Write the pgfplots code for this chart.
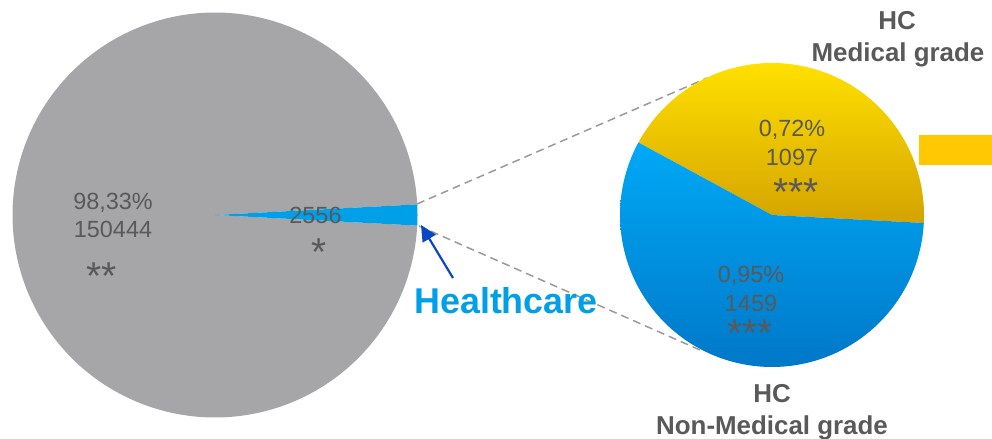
\documentclass[border=0pt]{standalone}
\usepackage{pgfplots}
\pgfplotsset{compat=1.18}
\usepackage{fontspec}
\setmainfont{Liberation Sans}
\usetikzlibrary{arrows.meta}
\definecolor{pgrey}{HTML}{A6A6A8}
\definecolor{tgrey}{HTML}{595959}
\definecolor{hcblue}{HTML}{00A0E9}
\definecolor{bluetop}{HTML}{00A9F6}
\definecolor{bluebot}{HTML}{0078C8}
\definecolor{yeltop}{HTML}{FFE000}
\definecolor{yelbot}{HTML}{D4A300}
\definecolor{arrowblue}{HTML}{0A47C2}
\definecolor{dashgrey}{HTML}{9A9A9A}
\definecolor{rectyel}{HTML}{FFC800}
% data
\def\vOther{150444}
\def\vMed{1097}
\def\vNon{1459}
\edef\hcAngle{\fpeval{360*(\vMed+\vNon)/(\vOther+\vMed+\vNon)}}
\edef\hcHalf{\fpeval{\hcAngle/2}}
\edef\medAngle{\fpeval{360*\vMed/(\vMed+\vNon)}}
\edef\medStart{-3}
\edef\medEnd{\fpeval{-3+\medAngle}}
\edef\nonEnd{357}
\newcommand\fs[2]{\fontsize{#1}{#2}\selectfont}
\begin{document}
\begin{tikzpicture}
\begin{axis}[
  scale only axis, width=992bp, height=439bp,
  xmin=0, xmax=992, ymin=0, ymax=439,
  hide axis, clip=false,
]
% connector lines
\addplot[dashgrey, line width=1.5bp, dash pattern=on 8bp off 5bp] coordinates {(417,235) (707,361)};
\addplot[dashgrey, line width=1.5bp, dash pattern=on 8bp off 5bp] coordinates {(419,213) (700,89)};
% left pie
\addplot[draw=none, fill=pgrey, domain=\hcHalf:360-\hcHalf, samples=240, variable=\t]
  ({215+202.5*cos(t)}, {224+202.5*sin(t)}) -- (axis cs:215,224) -- cycle;
\addplot[draw=none, fill=hcblue, domain=-\hcHalf:\hcHalf, samples=20, variable=\t]
  ({215+202.5*cos(t)}, {224+202.5*sin(t)}) -- (axis cs:215,224) -- cycle;
% right pie
\addplot[draw=none, top color=yeltop, bottom color=yelbot, domain=\medStart:\medEnd, samples=160, variable=\t]
  ({772+152*cos(t)}, {224+152*sin(t)}) -- (axis cs:772,224) -- cycle;
\addplot[draw=none, top color=bluetop, bottom color=bluebot, domain=\medEnd:\nonEnd, samples=200, variable=\t]
  ({772+152*cos(t)}, {224+152*sin(t)}) -- (axis cs:772,224) -- cycle;
% arrow
\addplot[arrowblue, line width=2.2bp, -{Triangle[length=16bp,width=15bp]}] coordinates {(453,161) (421,214)};
% yellow rectangle
\addplot[draw=none, fill=rectyel] coordinates {(919.3,274) (992,274) (992,304.3) (919.3,304.3)} -- cycle;
% labels
\node[anchor=base, text=tgrey, inner sep=0] at (axis cs:113,229) {\fs{23.5}{28}98,33\%};
\node[anchor=base, text=tgrey, inner sep=0] at (axis cs:113,201) {\fs{23.5}{28}150444};
\node[anchor=base, text=tgrey, inner sep=0] at (axis cs:102,149) {\fs{39}{40}**};
\node[anchor=base, text=tgrey, inner sep=0] at (axis cs:315.5,215) {\fs{23.5}{28}2556};
\node[anchor=base, text=tgrey, inner sep=0] at (axis cs:319,173) {\fs{39}{40}*};
\node[anchor=base, text=tgrey, inner sep=0] at (axis cs:792,302) {\fs{23.5}{28}0,72\%};
\node[anchor=base, text=tgrey, inner sep=0] at (axis cs:792,273) {\fs{23.5}{28}1097};
\node[anchor=base, text=tgrey, inner sep=0] at (axis cs:796,233) {\fs{39}{40}***};
\node[anchor=base, text=tgrey, inner sep=0] at (axis cs:751,156) {\fs{23.5}{28}0,95\%};
\node[anchor=base, text=tgrey, inner sep=0] at (axis cs:751,127) {\fs{23.5}{28}1459};
\node[anchor=base, text=tgrey, inner sep=0] at (axis cs:750,92) {\fs{39}{40}***};
\node[anchor=base, text=tgrey, inner sep=0] at (axis cs:897,409) {\fs{26}{30}\bfseries HC};
\node[anchor=base, text=tgrey, inner sep=0] at (axis cs:898,377) {\fs{26}{30}\bfseries Medical grade};
\node[anchor=base, text=tgrey, inner sep=0] at (axis cs:772,36) {\fs{26}{30}\bfseries HC};
\node[anchor=base, text=tgrey, inner sep=0] at (axis cs:772,4.5) {\fs{26}{30}\bfseries Non-Medical grade};
\node[anchor=base, text=hcblue, inner sep=0] at (axis cs:506,125.7) {\fs{36}{40}\bfseries Healthcare};
\end{axis}
\pgfresetboundingbox
\path (current axis.south west) rectangle (current axis.north east);
\end{tikzpicture}
\end{document}
